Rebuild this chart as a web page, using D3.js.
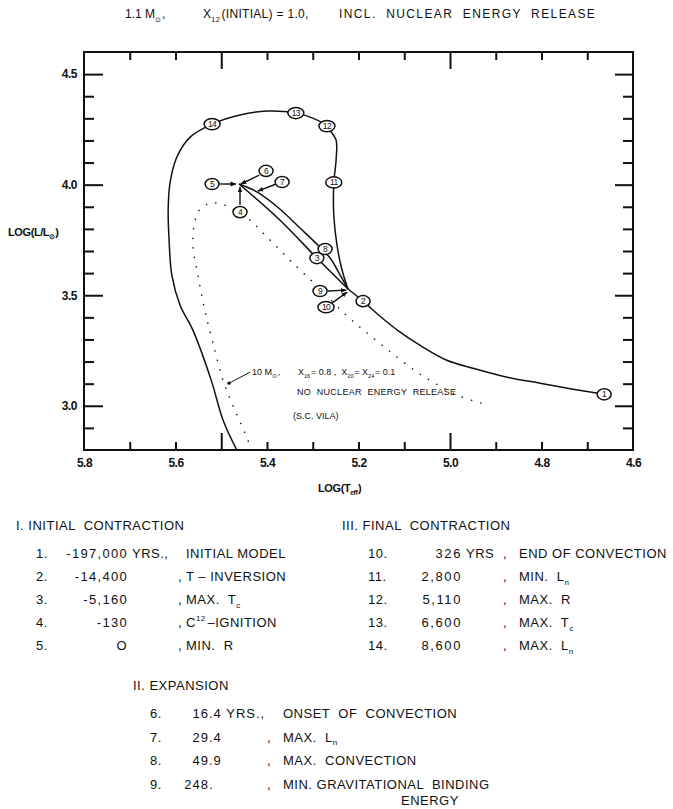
<!DOCTYPE html>
<html>
<head>
<meta charset="utf-8">
<script src="https://cdn.jsdelivr.net/npm/d3@7.9.0/dist/d3.min.js"></script>
<style>
  body { margin: 0; background: #fff; }
  svg text { font-family: "Liberation Sans", Arial, sans-serif; fill: #111; white-space: pre; }
</style>
</head>
<body>
<svg id="chart"></svg>
<script>
const width = 673;
const height = 809;
const margin = { top: 52, right: 40, bottom: 359, left: 84 };

// axis ticks
const xTickLabels = ["5.8", "5.6", "5.4", "5.2", "5.0", "4.8", "4.6"];
const xMinorTicks = [5.7, 5.6, 5.4, 5.3, 5.2, 5.1, 4.9, 4.8, 4.7];
const xMajorTicks = [5.5, 5.0];
const yTickLabels = ["3.0", "3.5", "4.0", "4.5"];
const yMinorTicks = [2.9, 3.1, 3.2, 3.3, 3.4, 3.6, 3.7, 3.8, 3.9, 4.1, 4.2, 4.3, 4.4];
const yMajorTicks = [3.0, 3.5, 4.0, 4.5];

// tracks: [log Teff, log L/Lsun]
const contractionTrack = [[4.663, 3.052], [4.731, 3.075], [4.803, 3.102], [4.875, 3.129], [4.950, 3.170],
  [5.007, 3.206], [5.066, 3.274], [5.109, 3.333], [5.153, 3.405], [5.190, 3.473], [5.223, 3.528]];
const ignitionTrack = [[5.223, 3.528], [5.291, 3.668], [5.372, 3.840], [5.461, 4.003]];
const expansionTrack = [[5.461, 4.003], [5.422, 3.967], [5.372, 3.890], [5.328, 3.804], [5.289, 3.727],
  [5.262, 3.668], [5.240, 3.591], [5.223, 3.528]];
const finalTrack = [[5.223, 3.528], [5.236, 3.614], [5.247, 3.727], [5.254, 3.862], [5.254, 4.007],
  [5.249, 4.111], [5.249, 4.202], [5.262, 4.245], [5.269, 4.265], [5.300, 4.301], [5.337, 4.324],
  [5.400, 4.333], [5.459, 4.315], [5.520, 4.274], [5.568, 4.215], [5.597, 4.125], [5.612, 4.007],
  [5.616, 3.885], [5.614, 3.749], [5.608, 3.591], [5.590, 3.455], [5.562, 3.342], [5.522, 3.116],
  [5.496, 2.935], [5.466, 2.800]];
const vilaTrack = [[5.433, 2.800], [5.448, 2.876], [5.470, 2.980], [5.494, 3.102], [5.518, 3.283],
  [5.536, 3.433], [5.551, 3.591], [5.562, 3.727], [5.557, 3.840], [5.546, 3.890], [5.522, 3.917],
  [5.498, 3.912], [5.470, 3.885], [5.437, 3.840], [5.411, 3.786], [5.378, 3.718], [5.350, 3.659],
  [5.313, 3.586], [5.273, 3.505], [5.234, 3.424], [5.197, 3.356], [5.170, 3.310], [5.127, 3.238],
  [5.072, 3.152], [5.022, 3.089], [4.978, 3.043], [4.923, 3.007]];

// numbered stages
const stageIds = ["1", "2", "3", "4", "5", "6", "7", "8", "9", "10", "11", "12", "13", "14"];
const stageLogT = [4.663, 5.190, 5.291, 5.459, 5.520, 5.402, 5.367, 5.273, 5.284, 5.271, 5.254, 5.269, 5.337, 5.520];
const stageLogL = [3.052, 3.473, 3.668, 3.876, 4.003, 4.062, 4.012, 3.709, 3.519, 3.446, 4.010, 4.265, 4.324, 4.274];

// pointer arrows from a label to its spot on the track
const arrowFrom = [[5.503, 4.003], [5.417, 4.043], [5.380, 4.003], [5.459, 3.908], [5.267, 3.519], [5.258, 3.464]];
const arrowTo = [[5.468, 4.003], [5.457, 4.003], [5.420, 3.971], [5.459, 3.989], [5.227, 3.523], [5.225, 3.514]];
const vilaPointer = [[5.483, 3.102], [5.437, 3.152]];

// legend tables
const phaseINums = ["1.", "2.", "3.", "4.", "5."];
const phaseITimes = ["-197,000", "-14,400", "-5,160", "-130", "O"];
const phaseIDescs = ["INITIAL MODEL", "T – INVERSION", "MAX.  T_c", "C^12–IGNITION", "MIN.  R"];
const phaseIINums = ["6.", "7.", "8.", "9."];
const phaseIITimes = ["16.4", "29.4", "49.9", "248."];
const phaseIIDescs = ["ONSET  OF  CONVECTION", "MAX.  L_n", "MAX.  CONVECTION", "MIN. GRAVITATIONAL  BINDING"];
const phaseIIINums = ["10.", "11.", "12.", "13.", "14."];
const phaseIIITimes = ["326", "2,800", "5,110", "6,600", "8,600"];
const phaseIIIDescs = ["END OF CONVECTION", "MIN.  L_n", "MAX.  R", "MAX.  T_c", "MAX.  L_n"];

const svg = d3.select("#chart")
  .attr("width", width)
  .attr("height", height);

const x = d3.scaleLinear()
  .domain([5.8, 4.6])
  .range([margin.left, width - margin.right]);

const y = d3.scaleLinear()
  .domain([2.8, 4.6])
  .range([height - margin.bottom, margin.top]);

// writes "A_b" as subscript and "A^b" as superscript
function richText(sel, str, size) {
  str.split(/([_^][0-9a-z⊙]+)/).forEach(part => {
    if (!part) return;
    if (part[0] === "_" || part[0] === "^") {
      const sub = part[0] === "_";
      sel.append("tspan")
        .attr("font-size", size * 0.62)
        .attr("dy", sub ? size * 0.3 : -size * 0.45)
        .text(part.slice(1));
      sel.append("tspan").attr("dy", sub ? -size * 0.3 : size * 0.45).text("\u200a");
    } else {
      sel.append("tspan").text(part);
    }
  });
  return sel;
}

// ----- axes -----
function styleAxis(g) {
  g.select(".domain").remove();
  g.selectAll(".tick line").attr("stroke", "#111").attr("stroke-width", 2);
  g.selectAll(".tick text")
    .attr("font-size", 12)
    .attr("font-weight", "bold")
    .attr("letter-spacing", -0.5)
    .attr("fill", "#111");
}

const bottom = height - margin.bottom;
const right = width - margin.right;

svg.append("g").attr("transform", `translate(0,${bottom})`)
  .call(d3.axisBottom(x).tickValues(xMinorTicks).tickSize(-8).tickFormat(""))
  .call(styleAxis);
svg.append("g").attr("transform", `translate(0,${bottom})`)
  .call(d3.axisBottom(x).tickValues(xMajorTicks).tickSize(-17).tickFormat(""))
  .call(styleAxis);
svg.append("g").attr("transform", `translate(0,${bottom})`)
  .call(d3.axisBottom(x).tickValues(xTickLabels.map(Number)).tickSize(0).tickPadding(8)
    .tickFormat((d, i) => xTickLabels[i]))
  .call(styleAxis);

svg.append("g").attr("transform", `translate(0,${margin.top})`)
  .call(d3.axisTop(x).tickValues(xMinorTicks).tickSize(-8).tickFormat(""))
  .call(styleAxis);
svg.append("g").attr("transform", `translate(0,${margin.top})`)
  .call(d3.axisTop(x).tickValues(xMajorTicks).tickSize(-17).tickFormat(""))
  .call(styleAxis);

svg.append("g").attr("transform", `translate(${margin.left},0)`)
  .call(d3.axisLeft(y).tickValues(yMinorTicks).tickSize(-10).tickFormat(""))
  .call(styleAxis);
svg.append("g").attr("transform", `translate(${margin.left},0)`)
  .call(d3.axisLeft(y).tickValues(yMajorTicks).tickSize(-19).tickFormat(""))
  .call(styleAxis);
svg.append("g").attr("transform", `translate(${margin.left},0)`)
  .call(d3.axisLeft(y).tickValues(yTickLabels.map(Number)).tickSize(0).tickPadding(7)
    .tickFormat((d, i) => yTickLabels[i]))
  .call(styleAxis);

svg.append("g").attr("transform", `translate(${right},0)`)
  .call(d3.axisRight(y).tickValues(yMinorTicks).tickSize(-10).tickFormat(""))
  .call(styleAxis);
svg.append("g").attr("transform", `translate(${right},0)`)
  .call(d3.axisRight(y).tickValues(yMajorTicks).tickSize(-18).tickFormat(""))
  .call(styleAxis);

svg.append("rect")
  .attr("x", margin.left)
  .attr("y", margin.top)
  .attr("width", right - margin.left)
  .attr("height", bottom - margin.top)
  .attr("fill", "none")
  .attr("stroke", "#111")
  .attr("stroke-width", 2);

// ----- titles -----
const title = svg.append("g").attr("font-size", 12);
richText(title.append("text").attr("x", 125).attr("y", 18), "1.1 M_⊙,", 12);
richText(title.append("text").attr("x", 203).attr("y", 18).attr("letter-spacing", 0.3), "X_12(INITIAL) = 1.0,", 12);
title.append("text").attr("x", 339).attr("y", 18).attr("letter-spacing", 1.4)
  .text("INCL.  NUCLEAR  ENERGY  RELEASE");

richText(svg.append("text").attr("x", 8).attr("y", 236).attr("font-size", 11).attr("font-weight", "bold")
  .attr("letter-spacing", -0.4), "LOG(L/L_⊙)", 11);
richText(svg.append("text").attr("x", 318).attr("y", 492).attr("font-size", 11).attr("font-weight", "bold")
  .attr("letter-spacing", -0.4), "LOG(T_eff)", 11);

// ----- tracks -----
const line = d3.line()
  .x(d => x(d[0]))
  .y(d => y(d[1]))
  .curve(d3.curveCatmullRom.alpha(0.5));

svg.append("g")
  .selectAll("path")
  .data([contractionTrack, ignitionTrack, expansionTrack, finalTrack])
  .join("path")
  .attr("fill", "none")
  .attr("stroke", "#111")
  .attr("stroke-width", 1.5)
  .attr("d", line);

svg.append("path")
  .attr("fill", "none")
  .attr("stroke", "#222")
  .attr("stroke-width", 1.6)
  .attr("stroke-linecap", "round")
  .attr("stroke-dasharray", "0.1 9.5")
  .attr("d", line(vilaTrack));

// arrowheads
svg.append("defs").append("marker")
  .attr("id", "head")
  .attr("viewBox", "0 0 10 10")
  .attr("refX", 9).attr("refY", 5)
  .attr("markerWidth", 6).attr("markerHeight", 6)
  .attr("markerUnits", "userSpaceOnUse")
  .attr("orient", "auto")
  .append("path").attr("d", "M0,1 L10,5 L0,9 Z").attr("fill", "#111");

svg.append("g")
  .selectAll("line")
  .data(d3.zip(arrowFrom, arrowTo))
  .join("line")
  .attr("x1", d => x(d[0][0])).attr("y1", d => y(d[0][1]))
  .attr("x2", d => x(d[1][0])).attr("y2", d => y(d[1][1]))
  .attr("stroke", "#111")
  .attr("stroke-width", 1.4)
  .attr("marker-end", "url(#head)");

// stage circles
const stages = svg.append("g")
  .selectAll("g")
  .data(stageIds)
  .join("g")
  .attr("transform", (d, i) => `translate(${x(stageLogT[i])},${y(stageLogL[i])})`);

stages.append("ellipse")
  .attr("rx", d => d.length > 1 ? 8 : 7)
  .attr("ry", 5.6)
  .attr("fill", "#fff")
  .attr("stroke", "#111")
  .attr("stroke-width", 1.5);

stages.append("text")
  .attr("text-anchor", "middle")
  .attr("dy", "0.35em")
  .attr("font-size", 8.5)
  .attr("letter-spacing", -0.6)
  .text(d => d);

// Vila comparison note
svg.append("line")
  .attr("x1", x(vilaPointer[0][0])).attr("y1", y(vilaPointer[0][1]))
  .attr("x2", x(vilaPointer[1][0])).attr("y2", y(vilaPointer[1][1]))
  .attr("stroke", "#111").attr("stroke-width", 1);
svg.append("circle")
  .attr("cx", x(vilaPointer[0][0])).attr("cy", y(vilaPointer[0][1]))
  .attr("r", 1.6).attr("fill", "#111");

const note = svg.append("g").attr("font-size", 9);
richText(note.append("text").attr("x", 252).attr("y", 375), "10 M_⊙,", 9);
richText(note.append("text").attr("x", 298).attr("y", 375), "X_16= 0.8 ,  X_20= X_24= 0.1", 9);
note.append("text").attr("x", 297).attr("y", 395).attr("letter-spacing", 0.3).text("NO  NUCLEAR  ENERGY  RELEASE");
note.append("text").attr("x", 293).attr("y", 419).text("(S.C. VILA)");

// ----- legend -----
const legend = svg.append("g").attr("font-size", 13).attr("letter-spacing", 0.5);

function table(cfg) {
  legend.append("text").attr("x", cfg.hx).attr("y", cfg.hy).text(cfg.header);
  cfg.nums.forEach((n, i) => {
    const yy = cfg.y0 + i * cfg.dy;
    legend.append("text").attr("x", cfg.nx).attr("y", yy).text(n);
    if (cfg.decimal) {
      const [a, b] = cfg.times[i].split(".");
      legend.append("text").attr("x", cfg.vx).attr("y", yy).attr("text-anchor", "end")
        .attr("letter-spacing", cfg.spacing).text(a);
      legend.append("text").attr("x", cfg.vx).attr("y", yy)
        .attr("letter-spacing", cfg.spacing).text("." + b + (i === 0 ? " YRS.," : ""));
    } else {
      legend.append("text").attr("x", cfg.vx).attr("y", yy).attr("text-anchor", "end")
        .attr("letter-spacing", cfg.spacing).text(cfg.times[i]);
      if (i === 0) legend.append("text").attr("x", cfg.vx + 4).attr("y", yy).text(cfg.unit);
    }
    const unitHasComma = i === 0 && (cfg.decimal || cfg.unit.endsWith(","));
    if (!unitHasComma) legend.append("text").attr("x", cfg.cx).attr("y", yy).text(",");
    richText(legend.append("text").attr("x", cfg.tx).attr("y", yy), cfg.descs[i], 13);
  });
}

table({ header: "I. INITIAL  CONTRACTION", hx: 16, hy: 530, nums: phaseINums, times: phaseITimes,
  descs: phaseIDescs, unit: "YRS.,", nx: 36, vx: 128, cx: 178, tx: 186, y0: 558, dy: 23, spacing: 1.3 });
table({ header: "III. FINAL  CONTRACTION", hx: 342, hy: 530, nums: phaseIIINums, times: phaseIIITimes,
  descs: phaseIIIDescs, unit: "YRS", nx: 368, vx: 462, cx: 503, tx: 519, y0: 558, dy: 23, spacing: 1.6 });
table({ header: "II. EXPANSION", hx: 133, hy: 690, nums: phaseIINums, times: phaseIITimes,
  descs: phaseIIDescs, decimal: true, nx: 150, vx: 209, cx: 267, tx: 283, y0: 718, dy: 23.5, spacing: 1 });
legend.append("text").attr("x", 401).attr("y", 805).text("ENERGY");
</script>
</body>
</html>
